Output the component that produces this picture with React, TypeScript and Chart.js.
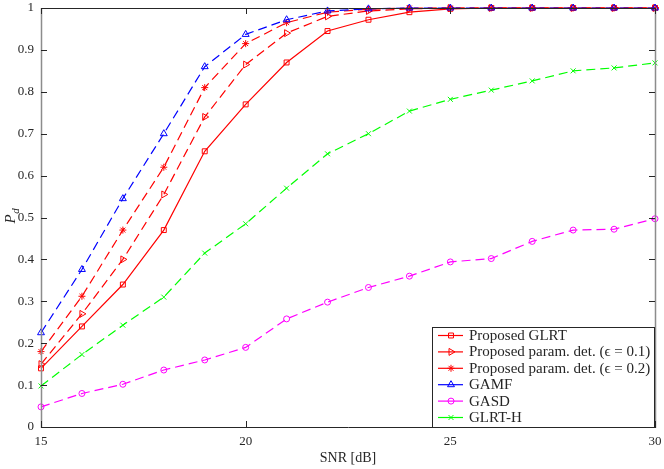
import React, { useEffect, useRef } from "react";
import { Chart, registerables, Plugin } from "chart.js";
import { drawPoint } from "chart.js/helpers";

Chart.register(...registerables);

const snr = [15, 16, 17, 18, 19, 20, 21, 22, 23, 24, 25, 26, 27, 28, 29, 30];
const glrt = [0.14, 0.24, 0.34, 0.47, 0.658, 0.77, 0.87, 0.945, 0.972, 0.99, 0.998, 1, 1, 1, 1, 1];
const paramEps01 = [0.15, 0.27, 0.4, 0.555, 0.74, 0.865, 0.94, 0.98, 0.993, 0.998, 1, 1, 1, 1, 1, 1];
const paramEps02 = [0.18, 0.312, 0.47, 0.62, 0.81, 0.915, 0.965, 0.99, 0.997, 1, 1, 1, 1, 1, 1, 1];
const gamf = [0.225, 0.376, 0.545, 0.7, 0.86, 0.937, 0.972, 0.993, 0.998, 1, 1, 1, 1, 1, 1, 1];
const gasd = [0.048, 0.08, 0.102, 0.136, 0.16, 0.19, 0.258, 0.298, 0.333, 0.36, 0.394, 0.402, 0.443, 0.47, 0.472, 0.497];
const glrtH = [0.098, 0.173, 0.243, 0.31, 0.415, 0.485, 0.57, 0.652, 0.7, 0.754, 0.782, 0.804, 0.826, 0.85, 0.857, 0.869];

const xTicks = [15, 20, 25, 30];
const yTicks = [0, 0.1, 0.2, 0.3, 0.4, 0.5, 0.6, 0.7, 0.8, 0.9, 1];

const seriesNames = [
  "Proposed GLRT",
  "Proposed param. det. (\u03f5 = 0.1)",
  "Proposed param. det. (\u03f5 = 0.2)",
  "GAMF",
  "GASD",
  "GLRT-H",
];

const SERIF = "'Liberation Serif', 'DejaVu Serif', serif";
const AXIS = "#262626";
const DASH = [9, 5];

const toPoints = (ys: number[]) => ys.map((y, i) => ({ x: snr[i], y }));

// frame, inward ticks, axis titles and the in-plot legend
const matlabAxes: Plugin = {
  id: "matlabAxes",
  afterDatasetsDraw(chart) {
    const { ctx, chartArea: a, scales } = chart;
    const xs = scales.x;
    const ys = scales.y;
    ctx.save();
    ctx.setLineDash([]);
    // vertical edges look lighter in the reference
    ctx.strokeStyle = "#8c8c8c";
    ctx.lineWidth = 1.5;
    ctx.beginPath();
    ctx.moveTo(a.left + 0.5, a.top);
    ctx.lineTo(a.left + 0.5, a.bottom + 1);
    ctx.moveTo(a.right + 0.5, a.top);
    ctx.lineTo(a.right + 0.5, a.bottom + 1);
    ctx.stroke();
    ctx.strokeStyle = AXIS;
    ctx.lineWidth = 1;
    ctx.beginPath();
    ctx.moveTo(a.left, a.top + 0.5);
    ctx.lineTo(a.right + 1, a.top + 0.5);
    ctx.moveTo(a.left, a.bottom + 0.5);
    ctx.lineTo(a.right + 1, a.bottom + 0.5);
    const tl = 6;
    xTicks.forEach((v) => {
      const px = Math.round(xs.getPixelForValue(v)) + 0.5;
      ctx.moveTo(px, a.bottom);
      ctx.lineTo(px, a.bottom - tl);
      ctx.moveTo(px, a.top);
      ctx.lineTo(px, a.top + tl);
    });
    yTicks.forEach((v) => {
      const py = Math.round(ys.getPixelForValue(v)) + 0.5;
      ctx.moveTo(a.left, py);
      ctx.lineTo(a.left + tl, py);
      ctx.moveTo(a.right, py);
      ctx.lineTo(a.right - tl, py);
    });
    ctx.stroke();

    // axis titles
    ctx.fillStyle = AXIS;
    ctx.font = `14px ${SERIF}`;
    ctx.textAlign = "center";
    ctx.textBaseline = "middle";
    ctx.fillText("SNR [dB]", (a.left + a.right) / 2, 458);
    ctx.save();
    ctx.translate(10, (a.top + a.bottom) / 2);
    ctx.rotate(-Math.PI / 2);
    ctx.textAlign = "left";
    ctx.textBaseline = "alphabetic";
    ctx.font = `italic 15px ${SERIF}`;
    const pw = ctx.measureText("P").width;
    ctx.fillText("P", -6, 5);
    ctx.font = `italic 11px ${SERIF}`;
    ctx.fillText("d", -6 + pw + 0.5, 8.5);
    ctx.restore();

    // legend
    const lx = 432;
    const ly = 327;
    const lw = 222;
    const lh = 100;
    ctx.fillStyle = "#ffffff";
    ctx.fillRect(lx, ly, lw, lh);
    ctx.strokeStyle = AXIS;
    ctx.lineWidth = 1;
    ctx.strokeRect(lx + 0.5, ly + 0.5, lw, lh);
    ctx.font = `15px ${SERIF}`;
    ctx.textAlign = "left";
    ctx.textBaseline = "middle";
    chart.data.datasets.forEach((ds: any, i: number) => {
      const y = ly + 8.5 + i * 16.4;
      ctx.strokeStyle = ds.borderColor;
      ctx.lineWidth = ds.borderWidth;
      ctx.beginPath();
      ctx.moveTo(438, y);
      ctx.lineTo(463, y);
      ctx.stroke();
      ctx.lineWidth = 1;
      ctx.fillStyle = "transparent";
      drawPoint(ctx, {
        pointStyle: ds.pointStyle,
        rotation: ds.pointRotation || 0,
        radius: ds.pointRadius,
        borderWidth: 1,
      } as any, 451, y);
      ctx.fillStyle = AXIS;
      ctx.fillText(seriesNames[i], 469, y + 0.5);
    });
    ctx.restore();
  },
};

const App: React.FC = () => {
  const canvasRef = useRef<HTMLCanvasElement | null>(null);

  useEffect(() => {
    if (!canvasRef.current) return;
    const line = (idx: number, data: number[], color: string, style: any, radius: number, dashed: boolean, rotation = 0) => ({
      label: seriesNames[idx],
      data: toPoints(data),
      order: -idx, // later series drawn on top, as in MATLAB
      borderColor: color,
      backgroundColor: "transparent",
      pointBackgroundColor: "transparent",
      pointBorderColor: color,
      borderWidth: 1.2,
      borderDash: dashed ? DASH : [],
      pointStyle: style,
      pointRotation: rotation,
      pointRadius: radius,
      pointBorderWidth: 1,
      tension: 0,
      clip: false as any,
    });

    const chart = new Chart(canvasRef.current, {
      type: "line",
      data: {
        datasets: [
          line(0, glrt, "#ff0000", "rect", 3.5, false),
          line(1, paramEps01, "#ff0000", "triangle", 4, true, 90),
          line(2, paramEps02, "#ff0000", "star", 3.5, true),
          line(3, gamf, "#0000ff", "triangle", 4, true),
          line(4, gasd, "#ff00ff", "circle", 3, true),
          line(5, glrtH, "#00ff00", "crossRot", 3.5, true),
        ],
      },
      options: {
        animation: false,
        responsive: true,
        maintainAspectRatio: false,
        layout: { padding: { left: 0, top: 8, right: 9, bottom: 0 } },
        plugins: {
          legend: { display: false },
          tooltip: { enabled: false },
        },
        scales: {
          x: {
            type: "linear",
            min: 15,
            max: 30,
            afterFit: (s: any) => {
              s.height = 42;
              s.paddingLeft = 0;
              s.paddingRight = 0;
            },
            afterBuildTicks: (s: any) => {
              s.ticks = xTicks.map((v) => ({ value: v }));
            },
            grid: { display: false, drawTicks: false },
            border: { display: false },
            ticks: {
              padding: 7,
              color: AXIS,
              font: { family: SERIF, size: 13 },
              maxRotation: 0,
            },
          },
          y: {
            min: 0,
            max: 1,
            afterFit: (s: any) => {
              s.width = 41;
              s.paddingTop = 0;
              s.paddingBottom = 0;
            },
            afterBuildTicks: (s: any) => {
              s.ticks = yTicks.map((v) => ({ value: v }));
            },
            grid: { display: false, drawTicks: false },
            border: { display: false },
            ticks: {
              padding: 7,
              color: AXIS,
              font: { family: SERIF, size: 13 },
              callback: (v: any) => String(Number(Number(v).toFixed(1))),
            },
          },
        },
      },
      plugins: [matlabAxes],
    });

    return () => {
      chart.destroy();
    };
  }, []);

  return (
    <div style={{ position: "fixed", left: 0, top: 0, width: 664, height: 469, background: "#fff" }}>
      <canvas ref={canvasRef}></canvas>
    </div>
  );
};

export default App;
